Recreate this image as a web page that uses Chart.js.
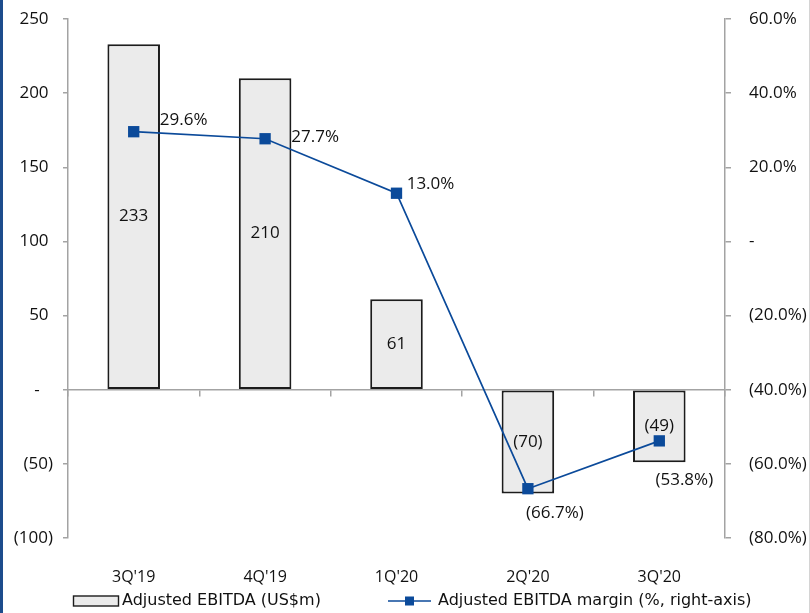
<!DOCTYPE html>
<html>
<head>
<meta charset="utf-8">
<script src="https://cdn.jsdelivr.net/npm/chart.js@4.4.1/dist/chart.umd.min.js"></script>
<style>
  html, body { margin: 0; padding: 0; background: #ffffff; }
  #wrap { position: relative; width: 810px; height: 613px; }
  #edge-left { position: absolute; left: 0; top: 0; width: 3px; height: 613px; background: #1d4c8c; }
  #edge-right { position: absolute; right: 0; top: 0; width: 1px; height: 613px; background: #d4d4d4; }
</style>
</head>
<body>
<div id="wrap">
  <canvas id="ebitda-chart" width="810" height="613"></canvas>
  <div id="edge-left"></div>
  <div id="edge-right"></div>
</div>
<script>
// Quarterly figures
const quarters = ["3Q'19", "4Q'19", "1Q'20", "2Q'20", "3Q'20"];
const ebitda = [233, 210, 61, -70, -49];          // US$m
const margin = [29.6, 27.7, 13.0, -66.7, -53.8];  // %

// Where each margin label sits relative to its marker (px)
const marginLabelOffsets = [[50, -12], [50, -2], [34, -9], [27, 24], [25, 39]];

const BAR_FILL = '#ebebeb';
const BAR_EDGE = '#1c1c1c';
const LINE_BLUE = '#0b4a9a';
const AXIS_GREY = '#a3a3a3';
const TEXT = '#111111';
const FONT = "'Open Sans', 'Noto Sans', sans-serif";

const fmtAmount = (v) => {
  if (v === 0) return '-   ';
  return v < 0 ? `(${Math.abs(v)})` : `${v} `;
};
const fmtPct = (v) => {
  if (v === 0) return '-';
  const s = Math.abs(v).toFixed(1) + '%';
  return v < 0 ? `(${s})` : s;
};

// fixed axis size, no extra room reserved for the end labels
const fixWidth = (w) => (scale) => {
  scale.width = w;
  scale.paddingTop = 0;
  scale.paddingBottom = 0;
};

// Value labels: amounts centred inside bars, margins beside markers
const valueLabels = {
  id: 'valueLabels',
  afterDatasetsDraw(chart) {
    const ctx = chart.ctx;
    ctx.save();
    ctx.fillStyle = TEXT;
    ctx.font = `17px ${FONT}`;
    ctx.textAlign = 'center';
    ctx.textBaseline = 'middle';

    chart.getDatasetMeta(0).data.forEach((bar, i) => {
      const y = (bar.y + bar.base) / 2;
      ctx.fillText(fmtAmount(ebitda[i]).trim(), bar.x, y);
    });

    chart.getDatasetMeta(1).data.forEach((pt, i) => {
      const [dx, dy] = marginLabelOffsets[i];
      ctx.fillText(fmtPct(margin[i]), pt.x + dx, pt.y + dy);
    });
    ctx.restore();
  }
};

// Legend row under the axis labels
const bottomLegend = {
  id: 'bottomLegend',
  afterDraw(chart) {
    const ctx = chart.ctx;
    const y = 601;
    ctx.save();
    ctx.font = `16px 'DejaVu Sans', sans-serif`;
    ctx.textBaseline = 'middle';
    ctx.textAlign = 'left';

    // bar swatch
    ctx.fillStyle = BAR_FILL;
    ctx.strokeStyle = BAR_EDGE;
    ctx.lineWidth = 1.4;
    ctx.fillRect(73.5, y - 5, 45, 10);
    ctx.strokeRect(73.5, y - 5, 45, 10);
    ctx.fillStyle = TEXT;
    ctx.fillText(chart.data.datasets[0].label, 122, y);

    // line swatch with marker
    ctx.strokeStyle = LINE_BLUE;
    ctx.lineWidth = 1.6;
    ctx.beginPath();
    ctx.moveTo(388, y);
    ctx.lineTo(431, y);
    ctx.stroke();
    ctx.fillStyle = LINE_BLUE;
    ctx.fillRect(405, y - 4.5, 9, 9);
    ctx.fillStyle = TEXT;
    ctx.fillText(chart.data.datasets[1].label, 438, y);
    ctx.restore();
  }
};

new Chart(document.getElementById('ebitda-chart'), {
  type: 'bar',
  data: {
    labels: quarters,
    datasets: [
      {
        type: 'bar',
        label: 'Adjusted EBITDA (US$m)',
        data: ebitda,
        backgroundColor: BAR_FILL,
        borderColor: BAR_EDGE,
        borderWidth: 2,
        borderSkipped: false,
        barPercentage: 0.4,
        categoryPercentage: 1,
        yAxisID: 'y',
        order: 2
      },
      {
        type: 'line',
        label: 'Adjusted EBITDA margin (%, right-axis)',
        data: margin,
        borderColor: LINE_BLUE,
        backgroundColor: LINE_BLUE,
        borderWidth: 1.7,
        pointStyle: 'rect',
        pointRadius: 8,
        pointHoverRadius: 8,
        pointBorderWidth: 0,
        tension: 0,
        yAxisID: 'y1',
        order: 1
      }
    ]
  },
  options: {
    responsive: false,
    animation: false,
    layout: { padding: { top: 19, left: 0, right: 0, bottom: 0 } },
    plugins: {
      legend: { display: false },
      tooltip: { enabled: false }
    },
    scales: {
      x: {
        offset: true,
        grid: { display: false },
        border: { display: false },
        ticks: {
          color: TEXT,
          padding: 22,
          maxRotation: 0,
          font: { family: FONT, size: 16 }
        },
        afterFit: (scale) => { scale.height = 75; }
      },
      // zero line with tick marks between quarters
      xZero: {
        type: 'category',
        labels: quarters,
        position: { y: 0 },
        offset: true,
        ticks: { display: false },
        grid: {
          offset: true,
          drawOnChartArea: false,
          drawTicks: true,
          tickLength: 6,
          color: AXIS_GREY,
          lineWidth: 1.5
        },
        border: { display: true, color: AXIS_GREY, width: 1.5 },
        afterFit: (scale) => { scale.height = 0; }
      },
      y: {
        position: 'left',
        min: -100,
        max: 250,
        ticks: {
          stepSize: 50,
          color: TEXT,
          padding: 10,
          font: { family: FONT, size: 17 },
          callback: (v) => fmtAmount(v)
        },
        grid: {
          drawOnChartArea: false,
          drawTicks: true,
          tickLength: 5,
          color: AXIS_GREY,
          lineWidth: 1.5
        },
        border: { display: true, color: AXIS_GREY, width: 1.5 },
        afterFit: fixWidth(68)
      },
      y1: {
        position: 'right',
        min: -80,
        max: 60,
        ticks: {
          stepSize: 20,
          color: TEXT,
          padding: 18,
          font: { family: FONT, size: 17 },
          callback: (v) => fmtPct(v)
        },
        grid: {
          drawOnChartArea: false,
          drawTicks: true,
          tickLength: 6,
          color: AXIS_GREY,
          lineWidth: 1.5
        },
        border: { display: true, color: AXIS_GREY, width: 1.5 },
        afterFit: fixWidth(85)
      }
    }
  },
  plugins: [valueLabels, bottomLegend]
});
</script>
</body>
</html>
